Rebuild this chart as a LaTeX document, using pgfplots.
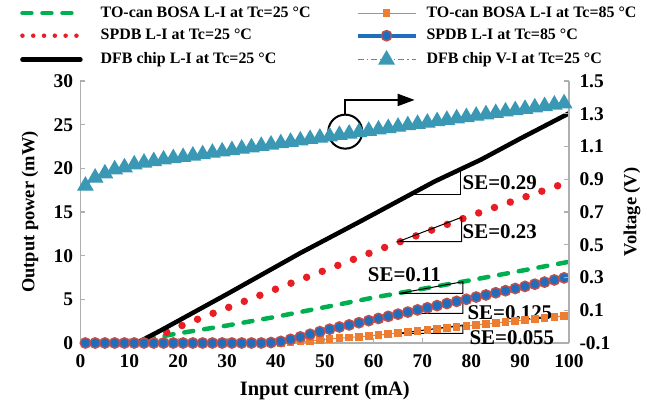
\documentclass[border=0pt]{standalone}
\usepackage{fontspec}
\setmainfont{Liberation Serif}
\usepackage{pgfplots}
\pgfplotsset{compat=1.18}
\usetikzlibrary{arrows.meta}

\definecolor{cgreen}{RGB}{0,176,80}
\definecolor{corange}{RGB}{237,125,49}
\definecolor{cred}{RGB}{232,30,36}
\definecolor{cblue}{RGB}{31,110,190}
\definecolor{cedge}{RGB}{192,80,77}
\definecolor{ccyan}{RGB}{58,152,180}
\definecolor{axisgray}{RGB}{175,175,175}

\newcommand\tickfont{\bfseries\fontsize{19.5}{20}\selectfont}
\newcommand\labfont{\bfseries\fontsize{20.5}{22}\selectfont}
\newcommand\ylabfont{\bfseries\fontsize{18.5}{20}\selectfont}
\newcommand\sefont{\bfseries\fontsize{21}{22}\selectfont}
\newcommand\legfont{\bfseries\fontsize{16}{17}\selectfont}

\pgfplotsset{
  base/.style={
    scale only axis, width=488.5bp, height=262bp,
    xmin=0, xmax=100,
    axis line style={draw=axisgray, line width=1.5bp, -},
    tick align=inside, major tick length=5bp,
    tick style={draw=axisgray, line width=1.2bp},
    /pgf/number format/assume math mode=true,
    tick label style={font=\tickfont},
    label style={font=\labfont},
    ylabel style={font=\ylabfont},
    clip=false,
  },
  greenL/.style={color=cgreen, line width=4.5bp, dash pattern=on 9bp off 11bp, line cap=round},
  redL/.style={color=cred, line width=7.5bp, dash pattern=on 0bp off 16.7bp, line cap=round},
  blackL/.style={color=black, line width=4.5bp, line join=round},
  orangeL/.style={color=corange, line width=1bp, mark=square*, mark size=3.3bp, mark options={fill=corange, draw=corange}},
  blueL/.style={color=cblue, line width=4bp, mark=*, mark size=5.2bp, mark options={fill=cblue, draw=cedge, line width=1.4bp}},
  cyanL/.style={color=ccyan, line width=1.2bp, dash pattern=on 6bp off 3bp on 1.5bp off 3bp, mark=triangle*, mark size=8.5bp, mark options={solid, fill=ccyan, draw=ccyan}},
}

\begin{document}
\begin{tikzpicture}
\begin{axis}[base,
  ymin=0, ymax=30,
  axis x line*=bottom, axis y line*=left,
  xtick={0,10,...,100}, ytick={0,5,...,30},
  xticklabel style={yshift=-8bp},
  yticklabel style={xshift=-4bp},
  xlabel={Input current (mA)},
  ylabel={Output power (mW)},
  xlabel style={at={(axis description cs:0.5,-0.183)}, anchor=center},
  ylabel style={at={(axis description cs:-0.1034,0.5)}, anchor=center},
  legend columns=2, legend cell align=left,
  legend style={at={(0,1)}, anchor=north west, xshift=-60.5bp, yshift=75bp,
    draw=none, fill=none, inner sep=0pt,
    nodes={inner sep=0pt, text height=11bp, text depth=3bp},
    row sep=8.5bp,
    /tikz/column 1/.style={column sep=18bp},
    /tikz/column 2/.style={column sep=45bp},
    /tikz/column 3/.style={column sep=9bp}},
  legend image code/.code={\draw[mark repeat=2,mark phase=2,#1] plot coordinates {(0bp,0bp) (29bp,0bp) (58bp,0bp)};},
]
\addlegendimage{greenL}
\addlegendentry{\legfont TO-can BOSA L-I at Tc=25 °C}
\addlegendimage{orangeL}
\addlegendentry{\legfont TO-can BOSA L-I at Tc=85 °C}
\addlegendimage{color=cred, line width=4.5bp, dash pattern=on 0bp off 10.8bp, line cap=round}
\addlegendentry{\legfont SPDB L-I at Tc=25 °C}
\addlegendimage{blueL}
\addlegendentry{\legfont SPDB L-I at Tc=85 °C}
\addlegendimage{blackL, line cap=round}
\addlegendentry{\legfont DFB chip L-I at Tc=25 °C}
\addlegendimage{cyanL}
\addlegendentry{\legfont DFB chip V-I at Tc=25 °C}

% TO-can BOSA, 85 C
\addplot[orangeL, forget plot] coordinates {
(1,0)(3,0)(5,0)(7,0)(9,0)(11,0)(13,0)(15,0)(17,0)(19,0)(21,0)(23,0)(25,0)(27,0)
(29,0)(31,0)(33,0)(35,0)(37,0)(39,0)(41,0)(43,0.06)(45,0.15)(47,0.25)(49,0.35)
(51,0.45)(53,0.55)(55,0.63)(57,0.72)(59,0.8)(61,0.915)(63,1.03)(65,1.145)(67,1.26)
(69,1.375)(71,1.49)(73,1.605)(75,1.72)(77,1.835)(79,1.95)(81,2.065)(83,2.18)
(85,2.295)(87,2.41)(89,2.525)(91,2.64)(93,2.755)(95,2.87)(97,2.985)(99,3.1)};
% TO-can BOSA, 25 C
\addplot[greenL, forget plot] coordinates {
(1,0)(10,0)(14,0.5)(20,1.1)(30,2.0)(40,3.0)(50,4.1)(60,5.2)(70,6.2)(80,7.2)(90,8.25)(100,9.3)};
% SPDB, 25 C
\addplot[redL, forget plot] coordinates {
(1,0)(12.3,0)(15.6,0.72)(22,2.3)(32.3,4.5)(42.5,6.72)(52.9,8.93)(59.9,10.45)
(70.1,12.56)(80.3,14.66)(90.6,16.64)(100,18.45)};
% SPDB, 85 C
\addplot[blueL, forget plot] coordinates {
(1,0)(3,0)(5,0)(7,0)(9,0)(11,0)(13,0)(15,0)(17,0)(19,0)(21,0)(23,0)(25,0)(27,0)
(29,0)(31,0)(33,0)(35,0)(37,0)(39,0.05)(41,0.18)(43,0.42)(45,0.7)(47,1.0)(49,1.3)
(51,1.58)(53,1.83)(55,2.07)(57,2.32)(59,2.56)(61,2.81)(63,3.05)(65,3.30)(67,3.54)
(69,3.79)(71,4.03)(73,4.28)(75,4.52)(77,4.77)(79,5.01)(81,5.26)(83,5.50)(85,5.75)
(87,5.99)(89,6.24)(91,6.48)(93,6.73)(95,6.97)(97,7.22)(99,7.46)};
% DFB chip L-I
\addplot[blackL, forget plot] coordinates {
(1,0)(11.5,0)(16.3,1.4)(30,5.6)(45,10.3)(57.2,13.9)(72.5,18.5)(82,21.0)(90,23.4)(100,26.3)};

% slope efficiency marks
\draw[line width=1bp] (axis cs:68,17.0) -- (axis cs:77.8,17.0) -- (axis cs:77.8,19.8);
\draw[line width=1bp] (axis cs:65,11.6) -- (axis cs:78,14.39) -- (axis cs:78,11.6) -- cycle;
\draw[line width=1bp] (axis cs:65.3,5.69) -- (axis cs:78.3,7.02) -- (axis cs:78.3,5.69) -- cycle;
\draw[line width=1bp] (axis cs:65.3,3.4) -- (axis cs:78.3,4.84) -- (axis cs:78.3,3.4) -- cycle;
\draw[line width=1bp] (axis cs:65.3,1.11) -- (axis cs:78.3,2.06) -- (axis cs:78.3,1.11) -- cycle;
\node[anchor=west, inner sep=0pt, font=\sefont] at (axis cs:78.2,18.3) {SE=0.29};
\node[anchor=west, inner sep=0pt, font=\sefont] at (axis cs:78.2,12.7) {SE=0.23};
\node[anchor=west, inner sep=0pt, font=\sefont] at (axis cs:58.8,7.84) {SE=0.11};
\node[anchor=west, inner sep=0pt, font=\sefont] at (axis cs:79.2,3.49) {SE=0.125};
\node[anchor=west, inner sep=0pt, font=\sefont] at (axis cs:79.6,0.63) {SE=0.055};

% pointer to the voltage axis
\draw[line width=2bp] (axis cs:54.2,24.2) circle[radius=17bp];
\draw[line width=2bp, -{Triangle[length=17bp,width=12bp]}]
  (axis cs:54.2,24.2) ++(0,17bp) |- (axis cs:68.4,27.83);
\end{axis}

\begin{axis}[base,
  ymin=-0.1, ymax=1.5,
  axis x line=none, axis y line*=right,
  ytick={-0.1,0.1,0.3,0.5,0.7,0.9,1.1,1.3,1.5},
  yticklabel style={xshift=7bp},
  y tick label style={/pgf/number format/fixed, /pgf/number format/fixed zerofill,
    /pgf/number format/precision=1},
  ylabel={Voltage (V)},
  ylabel style={at={(axis description cs:1.129,0.5)}, anchor=center},
]
% DFB chip V-I
\addplot[cyanL] coordinates {
(1,0.860)(3,0.909)(5,0.935)(7,0.960)(9,0.972)(11,0.990)(13,1.001)(15,1.010)(17,1.020)
(19,1.028)(21,1.035)(23,1.044)(25,1.052)(27,1.061)(29,1.069)(31,1.077)(33,1.086)
(35,1.094)(37,1.103)(39,1.111)(41,1.119)(43,1.128)(45,1.136)(47,1.145)(49,1.153)
(51,1.161)(53,1.170)(55,1.178)(57,1.187)(59,1.195)(61,1.203)(63,1.212)(65,1.220)
(67,1.229)(69,1.237)(71,1.245)(73,1.254)(75,1.262)(77,1.271)(79,1.279)(81,1.287)
(83,1.296)(85,1.304)(87,1.313)(89,1.321)(91,1.329)(93,1.338)(95,1.346)(97,1.355)
(99,1.363)};
\end{axis}
\path[use as bounding box] (-80.5bp,-62bp) rectangle (570.5bp,343bp);
\end{tikzpicture}
\end{document}
